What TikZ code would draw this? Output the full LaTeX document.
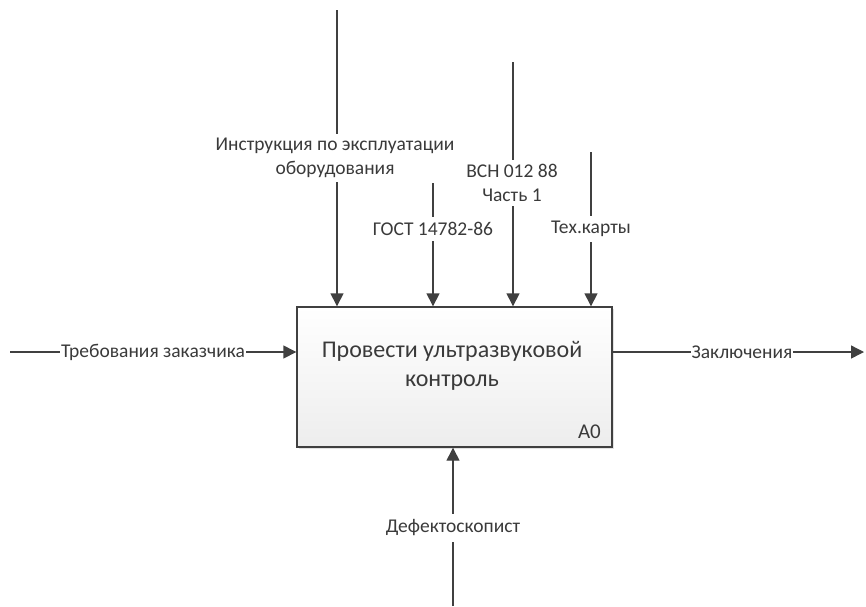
\documentclass[tikz,border=0pt]{standalone}
\usepackage{fontspec}
\setmainfont{Carlito}
\usetikzlibrary{arrows.meta,shadows}
\definecolor{ln}{HTML}{404040}
\definecolor{tx}{HTML}{3A3A3A}
\tikzset{
  conn/.style={draw=ln, line width=1.4pt, -{Triangle[length=13pt,width=13pt]}},
  lbl/.style={fill=white, text=tx, font=\fontsize{19.5}{24.5}\selectfont, inner sep=1pt, align=center},
  fnbox/.style={draw=ln, line width=1.4pt, top color=white, bottom color=gray!14,
     minimum width=315pt, minimum height=140pt, inner sep=0pt,
     drop shadow={shadow xshift=2pt, shadow yshift=-2pt, fill=gray!45}}
}
\begin{document}
\begin{tikzpicture}[x=1pt,y=-1pt]
\useasboundingbox (0,0) rectangle (866,606);
% function box
\node[fnbox] (box) at (454.5,377) {};
\node[text=tx, font=\fontsize{24}{29}\selectfont, align=center] (title) at (452,366) {Провести ультразвуковой\\контроль};
\node[text=tx, font=\fontsize{21}{24}\selectfont, anchor=base east, inner sep=0pt] (num) at (601,438) {А0};
% controls
\coordinate (c1) at (337,10);
\coordinate (c2) at (433,183);
\coordinate (c3) at (513,62);
\coordinate (c4) at (591,152);
\draw[conn] (c1) -- (c1 |- box.north);
\draw[conn] (c2) -- (c2 |- box.north);
\draw[conn] (c3) -- (c3 |- box.north);
\draw[conn] (c4) -- (c4 |- box.north);
\node[lbl, inner sep=4pt] (l1) at (335,158) {Инструкция по эксплуатации\\оборудования};
\node[lbl, inner sep=5pt] (l2) at (433,229) {ГОСТ 14782-86};
\node[lbl, inner sep=4pt] (l3) at (512,183) {ВСН 012 88\\Часть 1};
\node[lbl, inner sep=5pt] (l4) at (591,229) {Тех.карты};
% input
\coordinate (in) at (10,352);
\draw[conn] (in) -- (in -| box.west);
\node[lbl] (l5) at (153,352) {Требования заказчика};
% output
\coordinate (out) at (864,352);
\draw[conn] (out -| box.east) -- (out);
\node[lbl] (l6) at (742,352) {Заключения};
% mechanism
\coordinate (m) at (453,606);
\draw[conn] (m) -- (m |- box.south);
\node[lbl, inner sep=6pt] (l7) at (453,528) {Дефектоскопист};
\end{tikzpicture}
\end{document}
